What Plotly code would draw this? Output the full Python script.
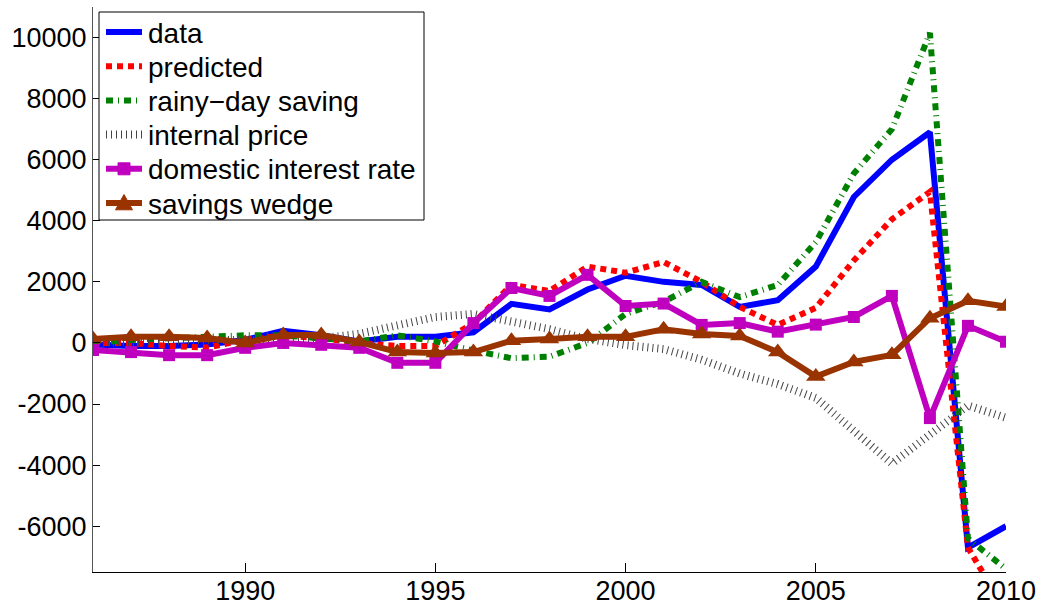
import plotly.graph_objects as go

years = list(range(1986, 2011))

data_vals = [-50, -100, -100, -50, 100, 400, 250, 50, 200, 200, 350, 1280, 1100, 1750,
             2200, 2000, 1900, 1180, 1400, 2500, 4780, 6000, 6900, -6700, -6000]
predicted = [0, 0, -100, -150, 100, 250, 150, 0, -100, -100, 650, 1900, 1700, 2500,
             2300, 2650, 2000, 1180, 590, 1150, 2700, 4050, 4950, -6700, -8800]
rainy_day = [0, 100, 150, 200, 250, 250, 150, 50, 250, 50, -250, -500, -450, 0,
             950, 1350, 2000, 1500, 1900, 3300, 5550, 7000, 10150, -6400, -7400]
internal_price = [0, 50, 100, 100, 100, 100, 150, 300, 550, 850, 950, 720, 450, 130,
                  -70, -200, -550, -1000, -1350, -1800, -2850, -3950, -3000, -2050, -2450]
domestic_rate = [-230, -300, -400, -400, -160, 0, -60, -160, -650, -650, 650, 1800, 1540, 2230,
                 1210, 1290, 590, 650, 370, 600, 850, 1540, -2460, 560, 40]
savings_wedge = [130, 200, 200, 160, 0, 260, 260, 30, -300, -330, -300, 70, 130, 200,
                 200, 450, 290, 230, -300, -1100, -620, -390, 810, 1380, 1190]

series_names = ["data", "predicted", "rainy\u2212day saving", "internal price",
                "domestic interest rate", "savings wedge"]

x_ticks = [1990, 1995, 2000, 2005, 2010]
y_ticks = [-6000, -4000, -2000, 0, 2000, 4000, 6000, 8000, 10000]

FONT = "Liberation Sans, Arial, Helvetica, sans-serif"

# figure geometry (pixels)
W, H = 1042, 610
M_L, M_R, M_T, M_B = 93, 36, 7, 38
PW, PH = W - M_L - M_R, H - M_T - M_B

# per-series styles: (colour, width, dash, marker symbol, marker size)
styles = [
    ("#0000ff", 6, "solid", None, 0),
    ("#ff0000", 6, "6px,5px", None, 0),
    ("#008000", 6, "7px,5px,1px,5px", None, 0),
    ("#444444", 8, "1px,4px", None, 0),
    ("#bf00bf", 6, "solid", "square", 12),
    ("#993300", 6, "solid", "triangle-up", 17),
]
series_values = [data_vals, predicted, rainy_day, internal_price, domestic_rate, savings_wedge]

fig = go.Figure()
for name, vals, (col, w, dash, sym, msize) in zip(series_names, series_values, styles):
    kw = dict(x=years, y=vals, name=name, showlegend=False,
              line=dict(color=col, width=w, dash=dash))
    if sym:
        kw["mode"] = "lines+markers"
        kw["marker"] = dict(symbol=sym, size=msize, color=col)
    else:
        kw["mode"] = "lines"
    fig.add_trace(go.Scatter(**kw))


def px(xp):
    return (xp - M_L) / PW


def py(yp):
    return (M_T + PH - yp) / PH


# legend box drawn in paper coordinates
shapes = []
annotations = []
box_l, box_r, box_t, box_b = 99, 424, 12, 220
shapes.append(dict(type="rect", xref="paper", yref="paper", layer="above",
                   x0=px(box_l), x1=px(box_r), y0=py(box_b), y1=py(box_t),
                   line=dict(color="black", width=1), fillcolor="white"))
row_y0, row_step = 32, 34.2
sample_x0, sample_x1, text_x = 106, 142, 146
for i, (name, (col, w, dash, sym, msize)) in enumerate(zip(series_names, styles)):
    yc = row_y0 + i * row_step
    shapes.append(dict(type="line", xref="paper", yref="paper", layer="above",
                       x0=px(sample_x0), x1=px(sample_x1), y0=py(yc), y1=py(yc),
                       line=dict(color=col, width=w, dash=dash)))
    xc = (sample_x0 + sample_x1) / 2
    if sym == "square":
        h = msize / 2
        shapes.append(dict(type="rect", xref="paper", yref="paper", layer="above",
                           x0=px(xc - h), x1=px(xc + h), y0=py(yc + h), y1=py(yc - h),
                           line=dict(color=col, width=1), fillcolor=col))
    elif sym == "triangle-up":
        h = msize / 2
        path = "M {} {} L {} {} L {} {} Z".format(
            px(xc - h), py(yc + h * 0.8), px(xc + h), py(yc + h * 0.8), px(xc), py(yc - h))
        shapes.append(dict(type="path", xref="paper", yref="paper", layer="above",
                           path=path, line=dict(color=col, width=1), fillcolor=col))
    annotations.append(dict(xref="paper", yref="paper", x=px(text_x), y=py(yc + 1),
                            xanchor="left", yanchor="middle", text=name, showarrow=False,
                            font=dict(family=FONT, size=28, color="black")))

fig.update_layout(
    width=W, height=H,
    margin=dict(l=M_L, r=M_R, t=M_T, b=M_B),
    paper_bgcolor="white", plot_bgcolor="white",
    font=dict(family=FONT, size=27, color="black"),
    showlegend=False,
    shapes=shapes,
    annotations=annotations,
)

fig.update_xaxes(
    range=[1986, 2010], tickvals=x_ticks, ticktext=[str(v) for v in x_ticks],
    showgrid=False, zeroline=False, showline=True, linecolor="black", linewidth=1,
    ticks="inside", ticklen=9, tickcolor="black", mirror=False, ticklabelstandoff=-5,
    automargin=False,
    tickfont=dict(family=FONT, size=27, color="black"),
)
fig.update_yaxes(
    range=[-7500, 11000], tickvals=y_ticks, ticktext=[str(v) for v in y_ticks],
    showgrid=False, zeroline=False, showline=True, linecolor="#555555", linewidth=1,
    ticks="inside", ticklen=7, tickcolor="black", mirror=False, automargin=False,
    tickfont=dict(family=FONT, size=27, color="black"),
)

fig.write_html("out.html")
